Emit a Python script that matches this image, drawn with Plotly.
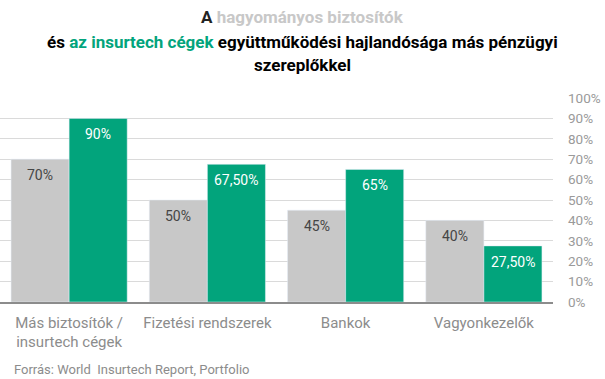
import plotly.graph_objects as go

categories = ["Más biztosítók /<br>insurtech cégek", "Fizetési rendszerek", "Bankok", "Vagyonkezelők"]
traditional = [70, 50, 45, 40]
insurtech = [90, 67.5, 65, 27.5]
y_ticks = [0, 10, 20, 30, 40, 50, 60, 70, 80, 90, 100]

GRAY = "#c8c8c8"
GREEN = "#02a47c"
FONT = "Roboto"

def fmt(v):
    if float(v).is_integer():
        return f"{int(v)}%"
    return f"{v:.2f}".replace(".", ",") + "%"

xs = list(range(len(categories)))

fig = go.Figure()
fig.add_trace(go.Bar(x=xs, y=traditional, marker_color=GRAY, name="hagyományos", hoverinfo="skip"))
fig.add_trace(go.Bar(x=xs, y=insurtech, marker_color=GREEN, name="insurtech", hoverinfo="skip"))

# data labels inside bars, near the top
for i in xs:
    fig.add_annotation(x=i, y=traditional[i], xref="x", yref="y", text=fmt(traditional[i]),
                       showarrow=False, xshift=-29, yshift=-16, yanchor="middle",
                       font=dict(family=FONT, size=14, color="#454545"))
    fig.add_annotation(x=i, y=insurtech[i], xref="x", yref="y", text=fmt(insurtech[i]),
                       showarrow=False, xshift=29, yshift=-16, yanchor="middle",
                       font=dict(family=FONT, size=14, color="#ffffff"))

fig.update_layout(
    width=605, height=379,
    margin=dict(l=0, r=52, t=98, b=77, autoexpand=False),
    barmode="group", bargap=0.16, bargroupgap=0,
    plot_bgcolor="white", paper_bgcolor="white",
    showlegend=False,
    font=dict(family=FONT),
)
fig.update_xaxes(
    range=[-0.5, len(categories) - 0.5],
    tickvals=xs, ticktext=categories,
    tickfont=dict(family=FONT, size=15, color="#8c8c8c"),
    ticks="", ticklabelstandoff=6,
    showgrid=False,
    showline=True, linecolor="#8c8c8c", linewidth=1.5,
    zeroline=False, automargin=False,
)
fig.update_yaxes(
    range=[0, 100], side="right",
    tickvals=y_ticks, ticktext=[f"{t}%" for t in y_ticks],
    tickfont=dict(family=FONT, size=13.5, color="#9a9a9a"),
    showgrid=True, gridcolor="#dadada", gridwidth=1,
    zeroline=False, ticks="", ticklabelstandoff=14, automargin=False,
)

# title lines
title_lines = [
    "<b><span style='color:#222222'>A</span> <span style='color:#c8c8c8'>hagyományos biztosítók</span></b>",
    "<b><span style='color:#000000'>és</span> <span style='color:%s'>az insurtech cégek</span> "
    "<span style='color:#000000'>együttműködési hajlandósága más pénzügyi</span></b>" % GREEN,
    "<b><span style='color:#000000'>szereplőkkel</span></b>",
]
for t, yc in zip(title_lines, [17, 42, 65]):
    fig.add_annotation(
        text=t, xref="paper", yref="paper",
        x=302 / 553, y=1 + (98 - yc) / 204, xanchor="center", yanchor="middle",
        showarrow=False, font=dict(family=FONT, size=17),
    )

fig.add_annotation(
    text="Forrás: World&nbsp; Insurtech Report, Portfolio", xref="paper", yref="paper",
    x=12 / 553, y=-(369 - 302) / 204, xanchor="left", yanchor="middle",
    showarrow=False, font=dict(family=FONT, size=13, color="#8c8c8c"),
)

fig.write_html("out.html", config={"displayModeBar": False},
               post_script="document.body.style.margin='0';")
